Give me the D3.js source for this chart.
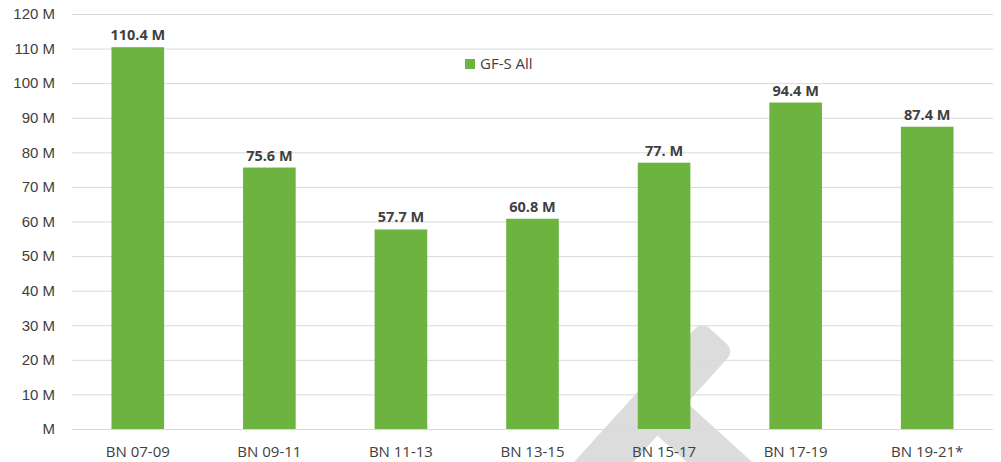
<!DOCTYPE html>
<html>
<head>
<meta charset="utf-8">
<script src="https://cdn.jsdelivr.net/npm/d3@7"></script>
<style>
  html, body { margin: 0; padding: 0; background: #fff; }
  svg { display: block; font-family: "Open Sans", "Liberation Sans", sans-serif; }
</style>
</head>
<body>
<div id="chart"></div>
<script>
// biennium categories and GF-S totals (millions)
const categories = ["BN 07-09", "BN 09-11", "BN 11-13", "BN 13-15", "BN 15-17", "BN 17-19", "BN 19-21*"];
const values = [110.4, 75.6, 57.7, 60.8, 77.0, 94.4, 87.4];
const valueLabels = ["110.4 M", "75.6 M", "57.7 M", "60.8 M", "77. M", "94.4 M", "87.4 M"];
const yTicks = [0, 10, 20, 30, 40, 50, 60, 70, 80, 90, 100, 110, 120];
const seriesName = "GF-S All";

const width = 1001, height = 462;
const margin = {top: 14, right: 8, bottom: 33, left: 72};
const green = "#6db33f";
const textCol = "#404040";

const svg = d3.select("#chart").append("svg")
  .attr("width", width)
  .attr("height", height);

const x = d3.scaleBand()
  .domain(categories)
  .range([margin.left, width - margin.right])
  .paddingInner(0.6)
  .paddingOuter(0.3);

const y = d3.scaleLinear()
  .domain([0, 120])
  .range([height - margin.bottom, margin.top]);

// faint watermark shape behind the plot (decoration, not data)
const wm = svg.append("g").attr("fill", "#dcdcdc");
wm.append("g")
  .attr("transform", "translate(718,336) rotate(-47.8)")
  .append("rect").attr("x", -260).attr("y", -22).attr("width", 260).attr("height", 44).attr("rx", 10);
wm.append("g")
  .attr("transform", "translate(672,419) rotate(42.2)")
  .append("rect").attr("x", -30).attr("y", -22).attr("width", 180).attr("height", 44);

// gridlines + y labels
const yAxis = g => g
  .attr("transform", `translate(${margin.left},0)`)
  .call(d3.axisLeft(y)
    .tickValues(yTicks)
    .tickSize(-(width - margin.left - margin.right))
    .tickPadding(17)
    .tickFormat(d => d === 0 ? "M" : `${d} M`))
  .call(g => g.select(".domain").remove())
  .call(g => g.selectAll(".tick line").attr("stroke", "#d9d9d9").attr("stroke-width", 1))
  .call(g => g.selectAll(".tick text").attr("fill", textCol).attr("font-size", 15));

svg.append("g").call(yAxis);

// bars
svg.append("g")
  .selectAll("rect")
  .data(values)
  .join("rect")
  .attr("x", (d, i) => x(categories[i]))
  .attr("width", x.bandwidth())
  .attr("y", d => y(d))
  .attr("height", d => y(0) - y(d))
  .attr("fill", green);

// value labels
svg.append("g")
  .selectAll("text")
  .data(values)
  .join("text")
  .attr("x", (d, i) => x(categories[i]) + x.bandwidth() / 2)
  .attr("y", d => y(d) - 7)
  .attr("text-anchor", "middle")
  .attr("font-size", 14.5)
  .attr("font-weight", "bold")
  .attr("fill", textCol)
  .text((d, i) => valueLabels[i]);

// category labels
svg.append("g")
  .selectAll("text")
  .data(categories)
  .join("text")
  .attr("x", d => x(d) + x.bandwidth() / 2)
  .attr("y", height - 5)
  .attr("text-anchor", "middle")
  .attr("font-size", 15)
  .attr("fill", textCol)
  .text(d => d);

// legend
const lg = svg.append("g").attr("transform", "translate(465,59)");
lg.append("rect").attr("width", 10).attr("height", 10).attr("fill", green);
lg.append("text").attr("x", 15).attr("y", 10).attr("font-size", 15).attr("fill", textCol).text(seriesName);
</script>
</body>
</html>
